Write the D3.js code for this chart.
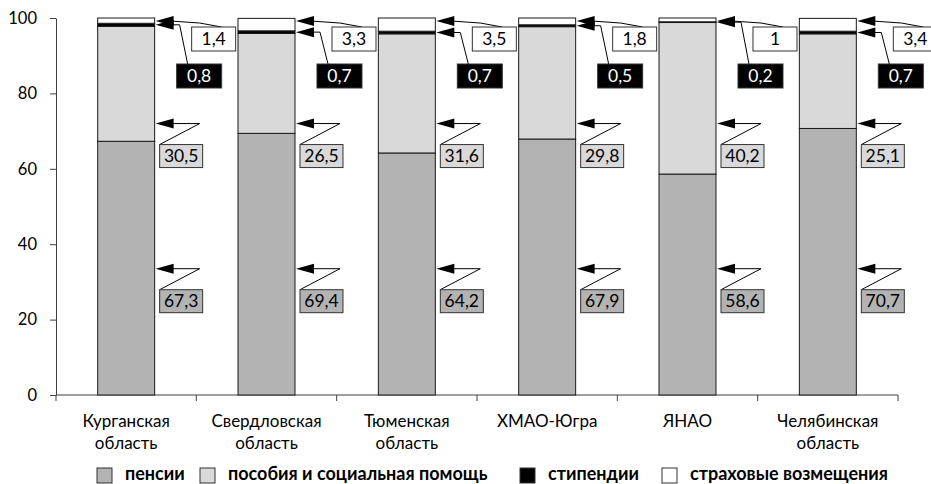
<!DOCTYPE html>
<html>
<head>
<meta charset="utf-8">
<script src="https://cdn.jsdelivr.net/npm/d3@7"></script>
<style>
  html, body { margin: 0; padding: 0; background: #fff; }
  svg { display: block; font-family: Lato, "Liberation Sans", sans-serif; }
</style>
</head>
<body>
<svg id="chart" width="931" height="484"></svg>
<script>
// Regions (two-line labels)
const categories = [
  ["Курганская", "область"],
  ["Свердловская", "область"],
  ["Тюменская", "область"],
  ["ХМАО-Югра"],
  ["ЯНАО"],
  ["Челябинская", "область"]
];
// Structure of social transfers, %
const pensions   = [67.3, 69.4, 64.2, 67.9, 58.6, 70.7];
const benefits   = [30.5, 26.5, 31.6, 29.8, 40.2, 25.1];
const stipends   = [0.8, 0.7, 0.7, 0.5, 0.2, 0.7];
const insurance  = [1.4, 3.3, 3.5, 1.8, 1.0, 3.4];
const seriesNames = ["пенсии", "пособия и социальная помощь", "стипендии", "страховые возмещения"];
const yTicks = [0, 20, 40, 60, 80, 100];

const colors = ["#b3b3b3", "#d9d9d9", "#000000", "#ffffff"];
const labelText = ["#000", "#000", "#fff", "#000"];
const fmt = v => String(v).replace(".", ",");

const svg = d3.select("#chart");
const plot = { left: 56, right: 898, top: 18, bottom: 395 };

const keys = categories.map((c, i) => i);
const x = d3.scaleBand().domain(keys).range([plot.left, plot.right]).padding(0);
const y = d3.scaleLinear().domain([0, 100]).range([plot.bottom, plot.top]);
const barW = x.bandwidth() * 0.406;

const table = keys.map(i => ({ i, s0: pensions[i], s1: benefits[i], s2: stipends[i], s3: insurance[i] }));
const stack = d3.stack().keys(["s0", "s1", "s2", "s3"])(table);

// Y axis
const yAxis = svg.append("g")
  .attr("transform", `translate(${plot.left},0)`)
  .call(d3.axisLeft(y).tickValues(yTicks).tickSizeInner(6).tickSizeOuter(0).tickPadding(13));
yAxis.select(".domain").attr("stroke", "#404040");
yAxis.selectAll(".tick line").attr("stroke", "#404040");
yAxis.selectAll(".tick text").attr("font-size", 16.5).attr("fill", "#000")
  .attr("font-family", "Lato, sans-serif");

// X axis: baseline with ticks at category boundaries
const xg = svg.append("g");
xg.append("line").attr("x1", plot.left).attr("x2", plot.right)
  .attr("y1", y(0)).attr("y2", y(0)).attr("stroke", "#404040");
const bounds = keys.map(i => x(i)).concat([plot.right]);
xg.selectAll("line.tk").data(bounds).join("line")
  .attr("class", "tk")
  .attr("x1", d => d).attr("x2", d => d)
  .attr("y1", y(0)).attr("y2", y(0) + 6).attr("stroke", "#404040");

const catLabels = xg.selectAll("text.cat").data(keys).join("text")
  .attr("class", "cat")
  .attr("x", i => x(i) + x.bandwidth() / 2)
  .attr("y", 427)
  .attr("text-anchor", "middle")
  .attr("font-size", 17)
  .attr("fill", "#000");
catLabels.selectAll("tspan").data(i => categories[i]).join("tspan")
  .attr("x", function () { return d3.select(this.parentNode).attr("x"); })
  .attr("dy", (d, j) => j === 0 ? 0 : 22)
  .text(d => d);

// Bars
const barX = i => x(i) + (x.bandwidth() - barW) / 2;
svg.append("g").selectAll("g").data(stack).join("g")
  .attr("fill", (d, k) => colors[k])
  .selectAll("rect").data(d => d).join("rect")
  .attr("x", d => barX(d.data.i))
  .attr("y", d => y(d[1]))
  .attr("width", barW)
  .attr("height", d => y(d[0]) - y(d[1]))
  .attr("stroke", "#1a1a1a")
  .attr("stroke-width", 1);

// Callouts: arrow to the bar edge, leader line, value box
const calloutLevel = [33.5, 72, null, 99.2];
const callouts = [
  { k: 0, elbow: [45, 0], box: [5, 21, 43, 23], end: [5, 21] },
  { k: 1, elbow: [45, 0], box: [5, 21, 43, 23], end: [5, 21] },
  { k: 2, elbow: [25, 0], box: [22, 35, 45, 24], end: [33, 35] },
  { k: 3, elbow: [45, 2], box: [37, 6, 44, 24], end: [67, 6] }
];
const cg = svg.append("g");
keys.forEach(i => {
  const bx = barX(i) + barW;
  callouts.forEach(c => {
    const seg = stack[c.k][i];
    const v = calloutLevel[c.k] == null ? (seg[0] + seg[1]) / 2 : calloutLevel[c.k];
    const ay = y(v);
    const boxTop = c.k === 2 ? 64 : (c.k === 3 ? 27 : ay + c.box[1]);
    const line = d3.line();
    cg.append("path")
      .attr("d", line([[bx + 16, ay], [bx + c.elbow[0], ay + c.elbow[1]], [bx + c.end[0], boxTop]]))
      .attr("fill", "none").attr("stroke", "#000").attr("stroke-width", 1);
    cg.append("path")
      .attr("d", line([[bx + 1, ay], [bx + 19, ay - 5], [bx + 19, ay + 5]]) + "Z")
      .attr("fill", "#000");
    cg.append("rect")
      .attr("x", bx + c.box[0]).attr("y", boxTop)
      .attr("width", c.box[2]).attr("height", c.box[3])
      .attr("fill", colors[c.k]).attr("stroke", "#333").attr("stroke-width", 1);
    cg.append("text")
      .attr("x", bx + c.box[0] + c.box[2] / 2)
      .attr("y", boxTop + c.box[3] / 2 + 6)
      .attr("text-anchor", "middle")
      .attr("font-size", 17.5)
      .attr("fill", labelText[c.k])
      .text(fmt([pensions, benefits, stipends, insurance][c.k][i]));
  });
});

// Legend
const legendX = [97, 200, 520, 662];
const lg = svg.append("g");
seriesNames.forEach((name, k) => {
  lg.append("rect")
    .attr("x", legendX[k]).attr("y", 468)
    .attr("width", 15).attr("height", 15)
    .attr("fill", colors[k]).attr("stroke", "#333");
  lg.append("text")
    .attr("x", legendX[k] + 28).attr("y", 480)
    .attr("font-size", 18).attr("font-weight", "bold")
    .attr("fill", "#000")
    .text(name);
});
</script>
</body>
</html>
